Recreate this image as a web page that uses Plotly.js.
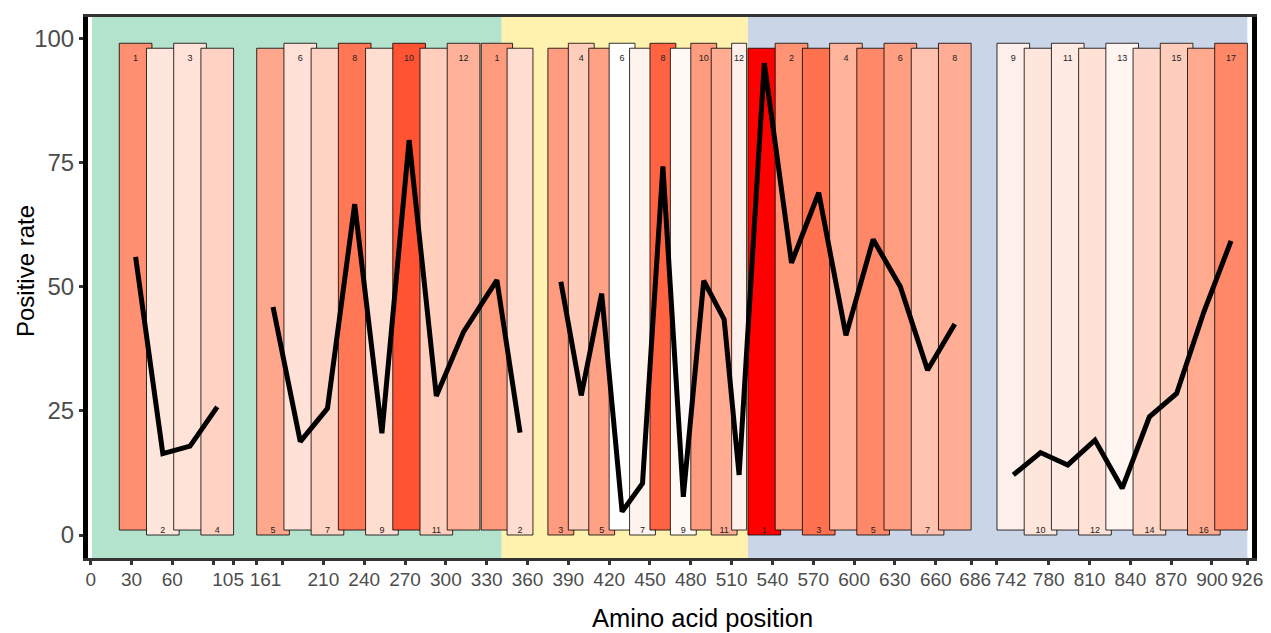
<!DOCTYPE html>
<html><head><meta charset="utf-8">
<script src="https://cdn.plot.ly/plotly-3.0.1.min.js"></script>
<style>html,body{margin:0;padding:0;background:#fff;}#chart{width:1271px;height:633px;}</style>
</head><body><div id="chart"></div>
<script>
// ---------------- DATA ----------------
// Line segment A
const segA_labels = [1, 2, 3, 4];
const segA_start  = [21, 41, 61, 81];
const segA_end    = [45, 65, 85, 105];
const segA_rate   = [56.0, 16.4, 17.9, 25.8];
const segA_tier   = [1, 0, 1, 0];
// Line segment B
const segB_labels = [5, 6, 7, 8, 9, 10, 11, 12, 1, 2];
const segB_start  = [161, 181, 201, 221, 241, 261, 281, 301, 326, 345];
const segB_end    = [185, 205, 225, 245, 265, 285, 305, 325, 349, 364];
const segB_rate   = [45.9, 18.8, 25.5, 66.6, 20.5, 79.5, 28.0, 40.9, 51.3, 20.6];
const segB_tier   = [0, 1, 0, 1, 0, 1, 0, 1, 1, 0];
// Line segment C
const segC_labels = [3, 4, 5, 6, 7, 8, 9, 10, 11, 12, 1, 2, 3, 4, 5, 6, 7, 8];
const segC_start  = [375, 390, 405, 420, 435, 450, 465, 480, 495, 510, 522, 542, 562, 582, 602, 622, 642, 662];
const segC_end    = [394, 409, 424, 439, 454, 469, 484, 499, 514, 521, 546, 566, 586, 606, 626, 646, 666, 686];
const segC_rate   = [51.0, 28.1, 48.6, 4.7, 10.4, 74.2, 7.7, 51.2, 43.4, 12.1, 95.0, 54.8, 68.9, 40.2, 59.5, 50.0, 33.2, 42.5];
const segC_tier   = [0, 1, 0, 1, 0, 1, 0, 1, 0, 1, 0, 1, 0, 1, 0, 1, 0, 1];
// Line segment D
const segD_labels = [9, 10, 11, 12, 13, 14, 15, 16, 17];
const segD_start  = [742, 762, 782, 802, 822, 842, 862, 882, 902];
const segD_end    = [766, 786, 806, 826, 846, 866, 886, 906, 926];
const segD_rate   = [12.1, 16.6, 14.1, 19.1, 9.4, 23.8, 28.5, 44.9, 59.2];
const segD_tier   = [1, 0, 1, 0, 1, 0, 1, 0, 1];

// Background regions
const regionStart = [1, 341, 522];
const regionEnd   = [341, 522, 926];
const regionColor = ['#B3E2CD', '#FFF2AE', '#CBD5E8'];

// Axis
const xTickValues = [0, 30, 60, 90, 105, 161, 180, 210, 240, 270, 300, 330, 360, 390, 420, 450, 480, 510, 540, 570, 600, 630, 660, 686, 742, 780, 810, 840, 870, 900, 926];
const xLabelValues = [0, 30, 60, 105, 161, 210, 240, 270, 300, 330, 360, 390, 420, 450, 480, 510, 540, 570, 600, 630, 660, 686, 742, 780, 810, 840, 870, 900, 926];
const yTickValues = [0, 25, 50, 75, 100];
const axisBreaks = [[105, 161], [686, 742]];
const breakGaps  = [17, 19];
// labels next to axis breaks are nudged apart (display units)
const labelNudge = {105: -4, 161: 6.5, 686: 3, 742: 10};

// -------------- helpers --------------
function disp(p) {
  let d = p;
  for (let i = 0; i < axisBreaks.length; i++) {
    const [a, b] = axisBreaks[i];
    if (p >= b) d -= (b - a) - breakGaps[i];
  }
  return d;
}
function toLin(c){c/=255;return c<=0.04045?c/12.92:Math.pow((c+0.055)/1.055,2.4);}
function toS(c){c=c<=0.0031308?12.92*c:1.055*Math.pow(c,1/2.4)-0.055;return Math.round(Math.max(0,Math.min(1,c))*255);}
const Xn=0.95047,Yn=1,Zn=1.08883;
function rgb2lab(r,g,b){
  const R=toLin(r),G=toLin(g),B=toLin(b);
  const X=(0.4124*R+0.3576*G+0.1805*B)/Xn, Y=(0.2126*R+0.7152*G+0.0722*B)/Yn, Z=(0.0193*R+0.1192*G+0.9505*B)/Zn;
  const f=t=>t>0.008856?Math.cbrt(t):7.787*t+16/116;
  const fx=f(X),fy=f(Y),fz=f(Z);
  return [116*fy-16,500*(fx-fy),200*(fy-fz)];
}
function lab2hex(L,a,b){
  const fy=(L+16)/116,fx=fy+a/500,fz=fy-b/200;
  const fi=t=>{const t3=t*t*t;return t3>0.008856?t3:(t-16/116)/7.787;};
  const X=fi(fx)*Xn,Y=fi(fy)*Yn,Z=fi(fz)*Zn;
  const R=3.2406*X-1.5372*Y-0.4986*Z,G=-0.9689*X+1.8758*Y+0.0415*Z,B=0.0557*X-0.2040*Y+1.0570*Z;
  return '#'+[toS(R),toS(G),toS(B)].map(v=>v.toString(16).padStart(2,'0')).join('');
}
const labLow = rgb2lab(255,255,255), labHigh = rgb2lab(255,0,0);

const segs = [
  {lab:segA_labels,s:segA_start,e:segA_end,r:segA_rate,t:segA_tier},
  {lab:segB_labels,s:segB_start,e:segB_end,r:segB_rate,t:segB_tier},
  {lab:segC_labels,s:segC_start,e:segC_end,r:segC_rate,t:segC_tier},
  {lab:segD_labels,s:segD_start,e:segD_end,r:segD_rate,t:segD_tier}
];
const allRates = segs.flatMap(s=>s.r);
const rMin = Math.min(...allRates), rMax = Math.max(...allRates);
function fillFor(v){
  const t=(v-rMin)/(rMax-rMin);
  return lab2hex(labLow[0]+(labHigh[0]-labLow[0])*t, labLow[1]+(labHigh[1]-labLow[1])*t, labLow[2]+(labHigh[2]-labLow[2])*t);
}

// bars
const bx=[],bw=[],bb=[],by=[],bc=[],tx=[],ty=[],tt=[];
segs.forEach(sg=>{
  sg.s.forEach((st,i)=>{
    const a=disp(st), b=disp(sg.e[i]);
    bx.push((a+b)/2); bw.push(b-a);
    bb.push(sg.t[i]?1:0); by.push(98);
    bc.push(fillFor(sg.r[i]));
    tx.push((a+b)/2); ty.push(sg.t[i]?95.8:0.9); tt.push(String(sg.lab[i]));
  });
});

const traces = [{
  type:'bar', x:bx, y:by, base:bb, width:bw,
  marker:{color:bc, line:{color:'rgba(0,0,0,0.8)', width:1}},
  hoverinfo:'skip', showlegend:false
}];
segs.forEach(sg=>{
  traces.push({
    type:'scatter', mode:'lines',
    x: sg.s.map((st,i)=>(disp(st)+disp(sg.e[i]))/2),
    y: sg.r,
    line:{color:'#000', width:5},
    hoverinfo:'skip', showlegend:false
  });
});
traces.push({
  type:'scatter', mode:'text', x:tx, y:ty, text:tt, xaxis:'x2',
  textfont:{family:'Liberation Sans, Arial, sans-serif', size:9, color:'#222'},
  hoverinfo:'skip', showlegend:false, cliponaxis:false
});

const shapes = regionStart.map((s,i)=>({
  type:'rect', layer:'below', xref:'x', yref:'paper',
  x0:disp(s), x1:disp(regionEnd[i]), y0:0, y1:1,
  fillcolor:regionColor[i], line:{width:0}
}));

const xr=[-1.98, 853.4];
const layout = {
  width:1271, height:633,
  margin:{l:88, r:19, t:17, b:75, pad:0},
  paper_bgcolor:'#fff', plot_bgcolor:'#fff',
  font:{family:'Liberation Sans, Arial, sans-serif', color:'#000'},
  bargap:0, barmode:'overlay',
  xaxis:{
    range:xr, tickvals:xTickValues.map(disp), showticklabels:false,
    ticks:'outside', ticklen:4, tickwidth:3, tickcolor:'#333',
    showline:true, linewidth:3, linecolor:'#333', mirror:true,
    showgrid:false, zeroline:false, fixedrange:true
  },
  xaxis2:{
    overlaying:'x', anchor:'y', side:'bottom', range:xr,
    tickvals:xLabelValues.map(v=>disp(v)+(labelNudge[v]||0)),
    ticktext:xLabelValues.map(String), ticks:'', tickangle:0,
    tickfont:{size:19, color:'#4D4D4D'}, ticklabelstandoff:8,
    showline:false, showgrid:false, zeroline:false, fixedrange:true
  },
  yaxis:{
    range:[-4.63, 104.29], tickvals:yTickValues,
    ticks:'outside', ticklen:4, tickwidth:3, tickcolor:'#333',
    tickfont:{size:24, color:'#4D4D4D'},
    showline:true, linewidth:5, linecolor:'#000', mirror:true,
    showgrid:false, zeroline:false, fixedrange:true
  },
  shapes:shapes,
  annotations:[
    {text:'Amino acid position', xref:'paper', yref:'paper', x:(702-88)/1164, y:(558-618)/541,
     showarrow:false, xanchor:'center', yanchor:'middle', font:{size:25.5, color:'#000'}},
    {text:'Positive rate', xref:'paper', yref:'paper', x:(25-88)/1164, y:(558-271)/541, textangle:-90,
     showarrow:false, xanchor:'center', yanchor:'middle', font:{size:24, color:'#000'}}
  ]
};
Plotly.newPlot('chart', traces, layout, {displayModeBar:false, staticPlot:true});
</script>
</body></html>
